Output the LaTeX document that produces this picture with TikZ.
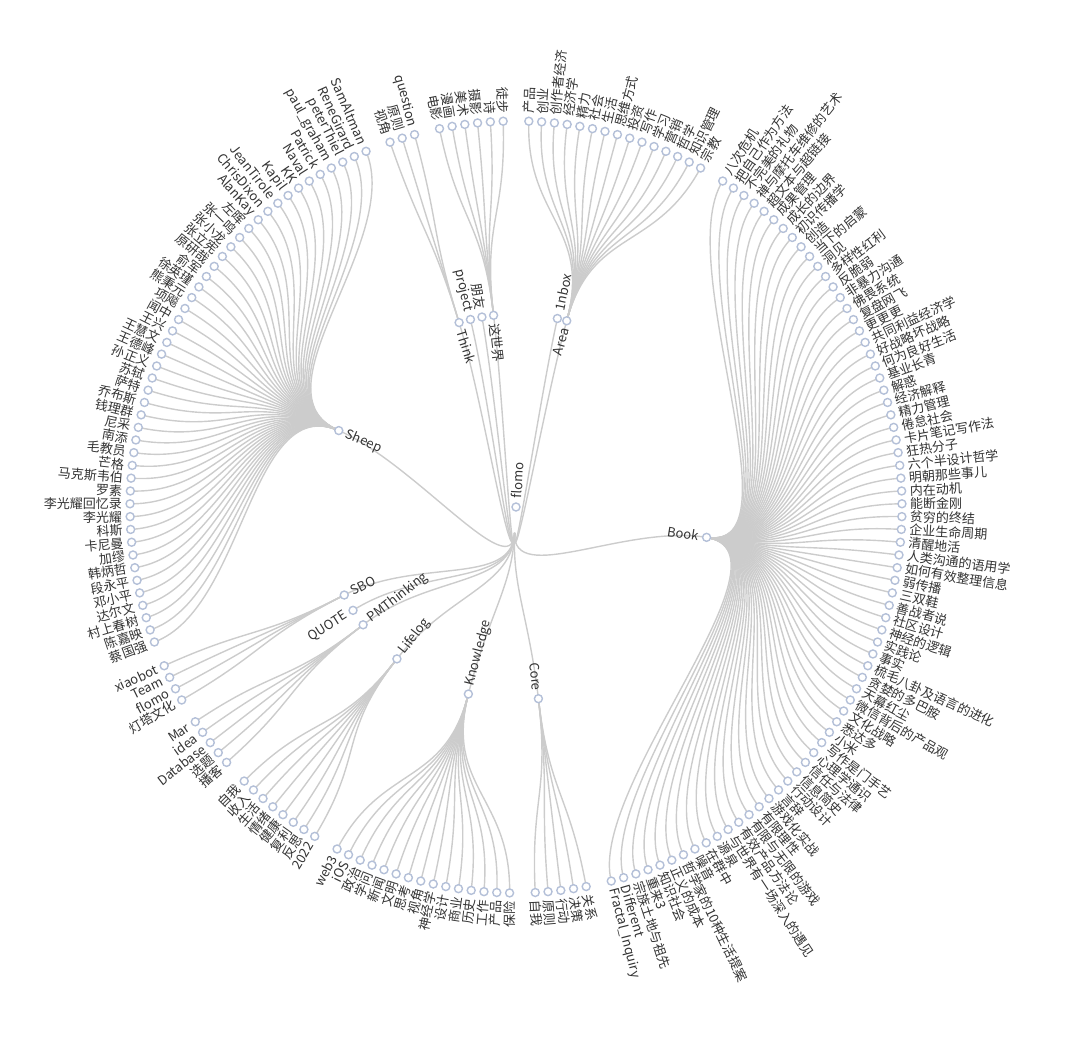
\documentclass[tikz,border=0pt]{standalone}
\usepackage{fontspec}
\setmainfont{Noto Sans CJK SC}
\usetikzlibrary{backgrounds}

\definecolor{linkgray}{HTML}{CCCCCC}
\definecolor{dotblue}{HTML}{B4C0D8}
\definecolor{labelgray}{HTML}{333333}

% 189 slots round the circle (1.9047619 deg each), slot 0 at the top, going clockwise.
% First level node: #1 name, #2 slot, #3 label, #4 = 1 if it has leaves.
\newcommand\limb[4]{%
  \pgfmathsetmacro\ang{90-(#2)*1.9047619}
  \pgfmathtruncatemacro\onright{(#2)<94.5}
  \node[dot] (#1) at (\ang:193pt) {};
  \begin{scope}[on background layer]
    \draw[link] (hub) .. controls (-92.857:80pt) and (\ang:110pt) .. (#1.center);
  \end{scope}
  \ifnum#4=1 % label towards the centre
    \ifnum\onright=1 \node[tag, rotate=\ang, anchor=east] at (\ang:185pt) {#3};
    \else \node[tag, rotate=\ang+180, anchor=west] at (\ang:185pt) {#3}; \fi
  \else % label outwards
    \ifnum\onright=1 \node[tag, rotate=\ang, anchor=west] at (\ang:201pt) {#3};
    \else \node[tag, rotate=\ang+180, anchor=east] at (\ang:201pt) {#3}; \fi
  \fi
}

% Leaves of one node: #1 parent, #2 parent slot, #3 first leaf slot, #4 labels.
\newcommand\twigs[4]{%
  \foreach \txt [count=\k from 0] in {#4} {
    \pgfmathsetmacro\ang{90-(#3+\k)*1.9047619}
    \pgfmathsetmacro\pang{90-(#2)*1.9047619}
    \pgfmathtruncatemacro\onright{(#3+\k)<94.5}
    \node[dot] (#1-\k) at (\ang:386pt) {};
    \ifnum\onright=1
      \node[tag, rotate=\ang, anchor=west] at (\ang:394pt) {\txt};
    \else
      \node[tag, rotate=\ang+180, anchor=east] at (\ang:394pt) {\txt};
    \fi
    \begin{scope}[on background layer]
      \draw[link] (#1.center) .. controls (\pang:289.5pt) and (\ang:289.5pt) .. (#1-\k.center);
    \end{scope}
  }%
}

\begin{document}
\begin{tikzpicture}[
  dot/.style={circle, draw=dotblue, fill=white, line width=1.4pt, minimum size=8pt, inner sep=0pt},
  link/.style={draw=linkgray, line width=1.4pt},
  tag/.style={text=labelgray, font=\fontsize{13}{15}\selectfont, inner sep=0pt}]
  \useasboundingbox (-516pt,-534pt) rectangle (564pt,507pt);

  % Root.
  \node[dot] (flomo) at (0,0) {};
  \node[tag, rotate=87.14, anchor=west] at (87.14:9pt) {flomo};
  \coordinate (hub) at (-92.857:26pt);

  % First level.
  \limb{inbox}{6.5}{1nbox}{0}
  \limb{area}{8}{Area}{1}
  \limb{book}{52}{Book}{1}
  \limb{core}{91}{Core}{1}
  \limb{knowledge}{102}{Knowledge}{1}
  \limb{lifelog}{114.5}{Lifelog}{1}
  \limb{pm}{122}{PMThinking}{1}
  \limb{quote}{124.75}{QUOTE}{0}
  \limb{sbo}{127.5}{SBO}{1}
  \limb{sheep}{154}{Sheep}{1}
  \limb{think}{180}{Think}{1}
  \limb{project}{181.8333}{project}{0}
  \limb{friend}{183.6667}{朋友}{0}
  \limb{world}{185.5}{这世界}{1}

  % Leaves.
  \twigs{area}{8}{1}{产品,创业,创作者经济,经济学,精力,社会,生活,思维方式,投资,写作,学习,营销,哲学,知识管理,宗教}
  \twigs{book}{52}{17}{八次危机,把自己作为方法,不完美的礼物,禅与摩托车维修的艺术,超文本与超链接,成果管理,成长的边界,初识传播学,创造,当下的启蒙,洞见,多样性红利,反脆弱,非暴力沟通,佛畏系统,复盘网飞,更更更,共同利益经济学,好战略坏战略,何为良好生活,基业长青,解惑,经济解释,精力管理,倦怠社会,卡片笔记写作法,狂热分子,六个半设计哲学,明朝那些事儿,内在动机,能断金刚,贫穷的终结,企业生命周期,清醒地活,人类沟通的语用学,如何有效整理信息,弱传播,三双鞋,善战者说,社区设计,神经的逻辑,实践论,事实,梳毛八卦及语言的进化,贪婪的多巴胺,天幕红尘,微信背后的产品观,文化战略,悉达多,小米,写作是门手艺,心理学通识,信任与法律,信息简史,行动设计,言辞,游戏化实战,有限理性,有限与无限的游戏,有效产品方法论,与世界有一场深入的遇见,源泉,在群中,噪音,哲学家的10种生活提案,正义的成本,知识社会,重来3,宗族土地与祖先,Different,Fractal\_Inquiry}
  \twigs{core}{91}{89}{关系,决策,行动,原则,自我}
  \twigs{knowledge}{102}{95}{保险,产品,工作,历史,商业,设计,神经学,视角,思考,文明,新闻,学问,政治,iOS,web3}
  \twigs{lifelog}{114.5}{111}{2022,反思,复利,健康,情绪,生活,收入,自我}
  \twigs{pm}{122}{120}{播客,选题,Database,idea,Mar}
  \twigs{sbo}{127.5}{126}{灯塔文化,flomo,Team,xiaobot}
  \twigs{sheep}{154}{131}{蔡国强,陈嘉映,村上春树,达尔文,邓小平,段永平,韩炳哲,加缪,卡尼曼,科斯,李光耀,李光耀回忆录,罗素,马克斯韦伯,芒格,毛教员,南添,尼采,钱理群,乔布斯,萨特,苏轼,孙正义,王德峰,王慧文,王兴,闻中,项飚,熊秉元,徐英瑾,俞军,原研哉,张立宪,张小龙,张一鸣,左晖,AlanKay,ChrisDixon,JeanTirole,Kapil,KK,Naval,Patrick,paul\_graham,peterThiel,ReneGirard,SamAltman}
  \twigs{think}{180}{179}{视角,原则,question}
  \twigs{world}{185.5}{183}{电影,漫画,美术,摄影,诗,徒步}
\end{tikzpicture}
\end{document}
